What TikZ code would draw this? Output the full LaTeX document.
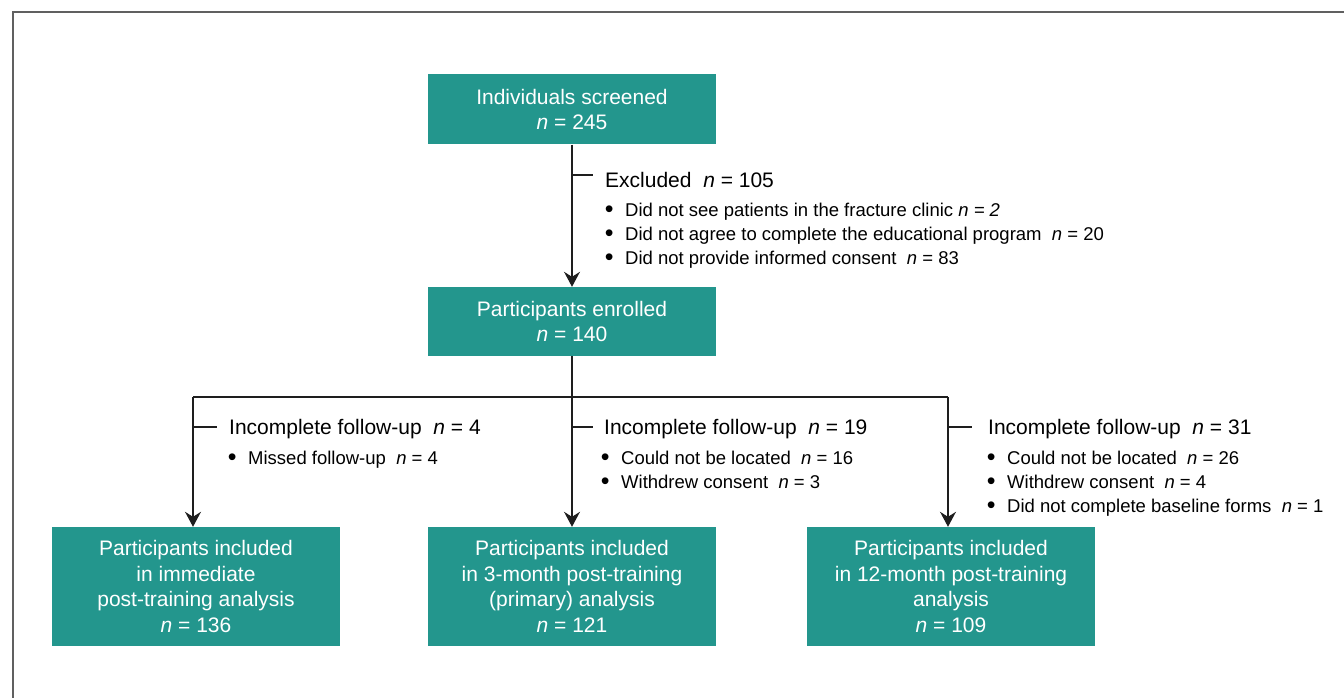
\documentclass[tikz,border=0pt]{standalone}
\usepackage{fontspec}
\setmainfont{Liberation Sans}
\usetikzlibrary{arrows.meta}
\definecolor{teal1}{RGB}{35,150,141}
\definecolor{framegray}{RGB}{96,96,96}
\definecolor{linec}{RGB}{30,30,30}
\tikzset{
  box/.style={fill=teal1, draw=none, text=white, minimum width=288pt, align=center, inner sep=0pt,
    font=\fontsize{21}{25.5}\selectfont},
  conn/.style={draw=linec, line width=1.3pt},
  arr/.style={conn, -{Stealth[length=15pt,width=16pt,inset=5pt]}},
  head/.style={anchor=base west, inner sep=0pt, font=\fontsize{21}{25}\selectfont},
  bitem/.style={anchor=base west, inner sep=0pt, font=\fontsize{18.5}{24}\selectfont},
}
\newcommand{\bul}{\makebox[0pt][c]{\raisebox{-0.6pt}{\scalebox{1.35}{\textbullet}}}\hspace{16pt}}
\begin{document}
\begin{tikzpicture}[x=1pt,y=-1pt]
\useasboundingbox (0,0) rectangle (1344,698);
\draw[draw=framegray, line width=2pt] (12.5,699) -- (12.5,12.5) -- (1345,12.5);

\node[box, minimum height=70pt] (screen) at (572,109.5) {Individuals screened\\\textit{n} = 245};
\node[box, minimum height=69pt] (enrol) at (572,321.5) {Participants enrolled\\\textit{n} = 140};
\node[box, minimum height=119pt] (imm) at (196,586.5) {Participants included\\in immediate\\post-training analysis\\\textit{n} = 136};
\node[box, minimum height=119pt] (three) at (572,586.5) {Participants included\\in 3-month post-training\\(primary) analysis\\\textit{n} = 121};
\node[box, minimum height=119pt] (twelve) at (951,586.5) {Participants included\\in 12-month post-training\\analysis\\\textit{n} = 109};

% main flow
\draw[arr] (screen.south) -- (enrol.north);
\coordinate (exA) at (572,175);
\coordinate (exB) at (593,175);
\draw[conn] (exA) -- (exB);
\node[head] (exh) at (605,187.5) {Excluded~ \textit{n} = 105};
\node[bitem] (ex1) at (609,216.5) {\bul Did not see patients in the fracture clinic \textit{n = 2}};
\node[bitem] (ex2) at (609,240.5) {\bul Did not agree to complete the educational program~ \textit{n} = 20};
\node[bitem] (ex3) at (609,264.5) {\bul Did not provide informed consent~ \textit{n} = 83};

% branching
\coordinate (jm) at (572,397);
\coordinate (jl) at (193,397);
\coordinate (jr) at (948,397);
\draw[conn] (enrol.south) -- (jm);
\draw[conn] (jl) -- (jr);
\draw[arr] (jl) -- (jl |- imm.north);
\draw[arr] (jm) -- (three.north);
\draw[arr] (jr) -- (jr |- twelve.north);

% left
\coordinate (lA) at (193,427);
\coordinate (lB) at (217,427);
\draw[conn] (lA) -- (lB);
\node[head] (lh) at (229,434.5) {Incomplete follow-up~ \textit{n} = 4};
\node[bitem] (l1) at (232,464.5) {\bul Missed follow-up~ \textit{n} = 4};

% middle
\coordinate (mA) at (572,427);
\coordinate (mB) at (593,427);
\draw[conn] (mA) -- (mB);
\node[head] (mh) at (604,434.5) {Incomplete follow-up~ \textit{n} = 19};
\node[bitem] (m1) at (605,464.5) {\bul Could not be located~ \textit{n} = 16};
\node[bitem] (m2) at (605,488.5) {\bul Withdrew consent~ \textit{n} = 3};

% right
\coordinate (rA) at (948,427);
\coordinate (rB) at (972,427);
\draw[conn] (rA) -- (rB);
\node[head] (rh) at (988,434.5) {Incomplete follow-up~ \textit{n} = 31};
\node[bitem] (r1) at (991,464.5) {\bul Could not be located~ \textit{n} = 26};
\node[bitem] (r2) at (991,488.5) {\bul Withdrew consent~ \textit{n} = 4};
\node[bitem] (r3) at (991,512.5) {\bul Did not complete baseline forms~ \textit{n} = 1};
\end{tikzpicture}
\end{document}
